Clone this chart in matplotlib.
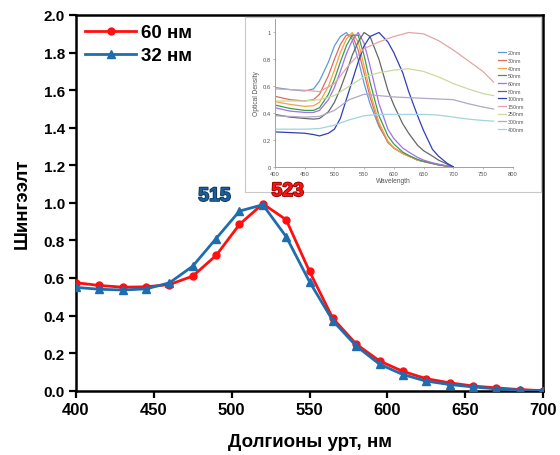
import matplotlib
matplotlib.use("Agg")
import matplotlib.pyplot as plt
import matplotlib.patheffects as pe

plt.rcParams['font.family'] = ['Liberation Sans', 'DejaVu Sans']

# ---------------- main data ----------------
wavelength = [400, 415, 430, 445, 460, 475, 490, 505, 520, 535, 550, 565,
              580, 595, 610, 625, 640, 655, 670, 685, 700]
abs_60nm = [0.575, 0.56, 0.551, 0.553, 0.565, 0.61, 0.72, 0.885, 0.995, 0.91,
            0.635, 0.385, 0.248, 0.158, 0.103, 0.064, 0.042, 0.025, 0.015, 0.006, 0.0]
abs_32nm = [0.55, 0.54, 0.536, 0.542, 0.574, 0.663, 0.81, 0.956, 0.99, 0.82,
            0.58, 0.372, 0.238, 0.141, 0.086, 0.051, 0.033, 0.02, 0.01, 0.003, 0.0]
series_labels = ["60 нм", "32 нм"]
peak_labels = ["523", "515"]

# ---------------- inset data ----------------
inset_x_small = [400, 425, 450, 465, 475, 490, 500, 510, 520, 530, 540, 550,
                 560, 575, 590, 600, 615, 625, 640, 650, 665, 675, 690, 700]
od_20 = [0.59, 0.575, 0.565, 0.58, 0.64, 0.78, 0.90, 0.97, 1.00, 0.95, 0.80, 0.62,
         0.47, 0.30, 0.19, 0.14, 0.10, 0.08, 0.05, 0.04, 0.025, 0.015, 0.005, 0.0]
od_30 = [0.525, 0.50, 0.49, 0.50, 0.54, 0.68, 0.80, 0.91, 0.98, 0.98, 0.87, 0.70,
         0.52, 0.31, 0.18, 0.14, 0.10, 0.08, 0.05, 0.04, 0.025, 0.015, 0.005, 0.0]
od_40 = [0.485, 0.465, 0.45, 0.455, 0.48, 0.60, 0.72, 0.85, 0.95, 1.00, 0.93, 0.75,
         0.56, 0.33, 0.19, 0.14, 0.10, 0.08, 0.05, 0.04, 0.025, 0.015, 0.005, 0.0]
od_50 = [0.46, 0.435, 0.42, 0.42, 0.44, 0.54, 0.65, 0.78, 0.90, 0.98, 0.98, 0.83,
         0.63, 0.38, 0.23, 0.17, 0.11, 0.085, 0.055, 0.04, 0.025, 0.015, 0.005, 0.0]
od_60 = [0.44, 0.415, 0.405, 0.405, 0.42, 0.50, 0.59, 0.71, 0.84, 0.94, 1.00, 0.92,
         0.75, 0.47, 0.28, 0.21, 0.14, 0.11, 0.07, 0.05, 0.03, 0.02, 0.007, 0.0]
od_80 = [0.39, 0.37, 0.36, 0.355, 0.36, 0.41, 0.48, 0.58, 0.70, 0.83, 0.93, 1.00,
         0.97, 0.80, 0.57, 0.46, 0.32, 0.25, 0.16, 0.12, 0.08, 0.05, 0.02, 0.0]
od_100 = [0.26, 0.255, 0.25, 0.24, 0.23, 0.25, 0.28, 0.36, 0.50, 0.64, 0.78, 0.90,
          0.97, 1.00, 0.93, 0.85, 0.70, 0.56, 0.38, 0.27, 0.13, 0.08, 0.025, 0.0]

inset_x_large = [400, 425, 450, 475, 500, 525, 550, 575, 600, 625, 650, 675, 700,
                 725, 750, 768]
od_150 = [0.58, 0.575, 0.57, 0.56, 0.62, 0.76, 0.88, 0.93, 0.97, 1.00, 0.99, 0.94,
          0.87, 0.79, 0.71, 0.63]
od_250 = [0.49, 0.49, 0.49, 0.50, 0.53, 0.60, 0.67, 0.70, 0.72, 0.73, 0.71, 0.67,
          0.62, 0.58, 0.545, 0.53]
od_300 = [0.38, 0.375, 0.37, 0.375, 0.42, 0.50, 0.54, 0.53, 0.52, 0.515, 0.51, 0.505,
          0.50, 0.47, 0.445, 0.43]
od_400 = [0.28, 0.28, 0.28, 0.285, 0.31, 0.35, 0.38, 0.39, 0.39, 0.39, 0.39, 0.385,
          0.37, 0.355, 0.345, 0.34]

inset_labels = ["20nm", "30nm", "40nm", "50nm", "60nm", "80nm", "100nm",
                "150nm", "250nm", "300nm", "400nm"]
inset_colors = ["#5B9BD5", "#E06A5E", "#F4A340", "#3E9A4E", "#A46FE8", "#666666",
                "#2F40B5", "#E2A5A5", "#C9DA9E", "#B2A6CA", "#A2D3E0"]

# ---------------- figure ----------------
fig = plt.figure(figsize=(5.6, 4.56), dpi=100)
ax = fig.add_axes([0.1357, 0.141, 0.834, 0.824])

red = "#FF1010"
blue = "#1F6DAE"
ax.plot(wavelength, abs_60nm, color=red, lw=2.0, marker='o', ms=5,
        label=series_labels[0], zorder=3)
ax.plot(wavelength, abs_32nm, color=blue, lw=2.0, marker='^', ms=6,
        label=series_labels[1], zorder=4)

ax.set_xlim(400, 700)
ax.set_ylim(0, 2.0)
ax.set_xticks([400, 450, 500, 550, 600, 650, 700])
ax.set_yticks([0.0, 0.2, 0.4, 0.6, 0.8, 1.0, 1.2, 1.4, 1.6, 1.8, 2.0])
ax.set_yticklabels([f"{v:.1f}" for v in ax.get_yticks()])
for s in ax.spines.values():
    s.set_linewidth(1.8)
ax.tick_params(direction='out', length=5, width=1.6, pad=3)
for lab in ax.get_xticklabels():
    lab.set_fontweight('bold'); lab.set_fontsize(12)
for lab in ax.get_yticklabels():
    lab.set_fontweight('bold'); lab.set_fontsize(11)

ax.set_xlabel("Долгионы урт, нм", fontsize=13.5, fontweight='bold', labelpad=12)
ax.set_ylabel("Шингээлт", fontsize=13.5, fontweight='bold', labelpad=9)

leg = ax.legend(loc='upper left', frameon=False, prop={'size': 13.5, 'weight': 'bold'},
                handlelength=2.7, handletextpad=0.25, labelspacing=0.3,
                borderaxespad=0.2, borderpad=0.3)

# peak labels drawn above the inset
fig.text(536, 1.06, peak_labels[0], transform=ax.transData, color=red,
         fontsize=14, fontweight='bold', ha='center', va='center', zorder=20,
         path_effects=[pe.withStroke(linewidth=1.2, foreground="#8a0000")])
fig.text(489, 1.034, peak_labels[1], transform=ax.transData, color="#1A5E9C",
         fontsize=14, fontweight='bold', ha='center', va='center', zorder=20,
         path_effects=[pe.withStroke(linewidth=1.2, foreground="#0d3355")])

# ---------------- inset ----------------
frame = fig.add_axes([0.4375, 0.577, 0.529, 0.383])
frame.set_xticks([]); frame.set_yticks([])
for s in frame.spines.values():
    s.set_color("#C8C8C8"); s.set_linewidth(0.8)
frame.set_zorder(5)

ins = fig.add_axes([0.491, 0.632, 0.4245, 0.324])
ins.set_zorder(6)
ins.patch.set_alpha(0)
small = [od_20, od_30, od_40, od_50, od_60, od_80, od_100]
large = [od_150, od_250, od_300, od_400]
for i, ys in enumerate(small):
    ins.plot(inset_x_small, ys, color=inset_colors[i], lw=0.9, label=inset_labels[i])
for j, ys in enumerate(large):
    ins.plot(inset_x_large, ys, color=inset_colors[7 + j], lw=0.9,
             label=inset_labels[7 + j])
ins.set_xlim(400, 800)
ins.set_ylim(0, 1.1)
ins.set_xticks([400, 450, 500, 550, 600, 650, 700, 750, 800])
ins.set_yticks([0, 0.2, 0.4, 0.6, 0.8, 1.0])
ins.set_yticklabels(["0", "0.2", "0.4", "0.6", "0.8", "1"])
ins.spines['top'].set_visible(False)
ins.spines['right'].set_visible(False)
for s in ['left', 'bottom']:
    ins.spines[s].set_color("#A0A0A0"); ins.spines[s].set_linewidth(0.7)
ins.tick_params(labelsize=4.2, length=1.5, width=0.5, colors="#A0A0A0",
                labelcolor="#555555", pad=1.5)
ins.set_xlabel("Wavelength", fontsize=4.8, color="#555555", labelpad=1)
ins.set_ylabel("Optical Density", fontsize=4.8, color="#555555", labelpad=2)
ins.legend(loc='center left', bbox_to_anchor=(0.935, 0.513), frameon=False,
           fontsize=3.8, handlelength=1.6, handletextpad=0.3, labelspacing=0.5,
           labelcolor="#555555", borderaxespad=0, borderpad=0.1)

fig.savefig("out.png", dpi=100)
